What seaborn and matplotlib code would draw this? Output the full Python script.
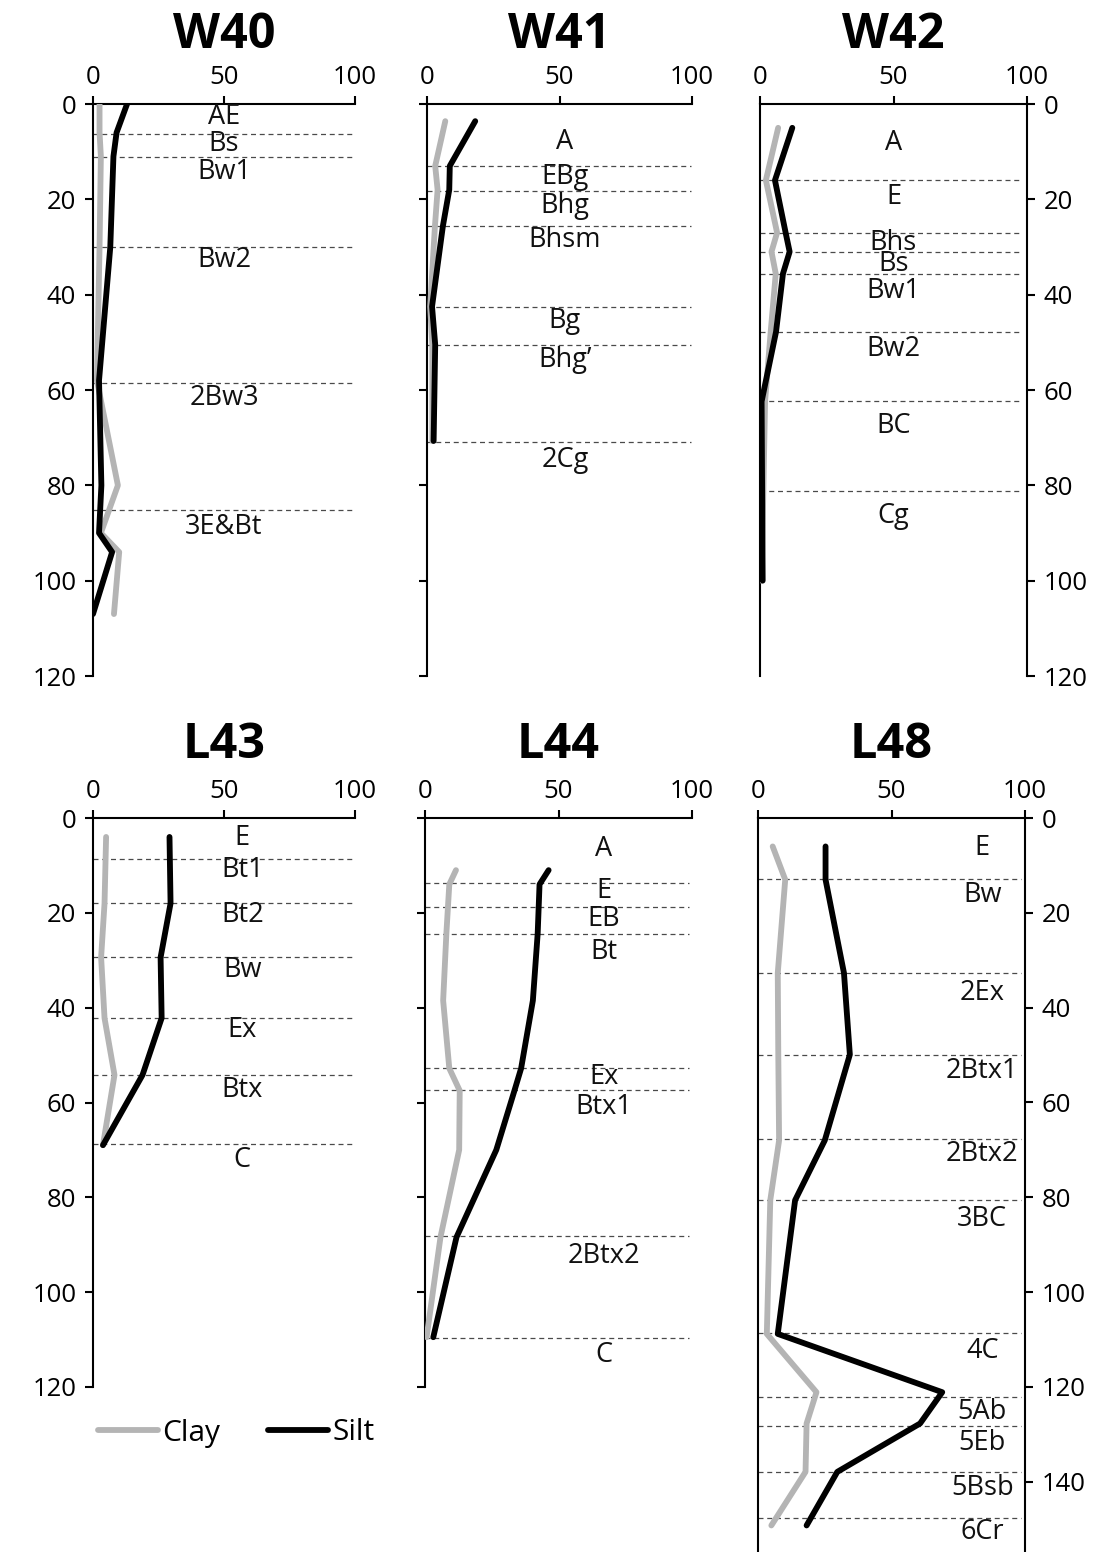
import numpy as np
import pandas as pd
import matplotlib
matplotlib.use("Agg")
import matplotlib.pyplot as plt
import seaborn as sns

# ---------------- data ----------------
# W40
w40_depth = [0, 6, 11, 30, 58, 80, 90, 94, 107]
w40_clay = [2.5, 2.5, 3.0, 2.5, 1.5, 9.5, 3.0, 10.0, 8.0]
w40_silt = [13.0, 9.0, 7.8, 6.6, 2.3, 3.2, 2.3, 7.3, 0.0]
w40_bounds = [6.3, 11.2, 30, 58.5, 85.1]
w40_hz = ["AE", "Bs", "Bw1", "Bw2", "2Bw3", "3E&Bt"]
w40_hz_depth = [2.8, 8.4, 14.2, 32.8, 61.6, 88.8]

# W41
w41_depth = [3.6, 13, 18, 25.6, 42.5, 50.5, 70.7]
w41_clay = [6.9, 3.1, 4.0, 3.0, 1.2, 2.0, 2.0]
w41_silt = [18.2, 8.6, 8.4, 6.0, 1.9, 3.1, 2.5]
w41_bounds = [13, 18.2, 25.6, 42.5, 50.5, 71]
w41_hz = ["A", "EBg", "Bhg", "Bhsm", "Bg", "Bhg\u2019", "2Cg"]
w41_hz_depth = [8, 15.4, 21.5, 28.6, 45.5, 53.8, 74.6]

# W42
w42_depth = [5, 16, 27, 31, 35.6, 47.8, 62.4, 100]
w42_clay = [6.8, 2.2, 6.4, 4.3, 5.9, 4.0, 1.9, 0.6]
w42_silt = [12.1, 5.6, 9.6, 11.1, 8.6, 6.0, 0.6, 1.0]
w42_bounds = [15.9, 27, 31.1, 35.6, 47.8, 62.4, 81.2]
w42_hz = ["A", "E", "Bhs", "Bs", "Bw1", "Bw2", "BC", "Cg"]
w42_hz_depth = [8.2, 19.5, 29.2, 33.5, 39.2, 51.4, 67.5, 86.5]

# L43
l43_depth = [4, 18, 29.4, 42.2, 54.2, 69]
l43_clay = [5.0, 4.4, 3.1, 4.4, 8.2, 3.8]
l43_silt = [29.2, 29.6, 25.8, 26.2, 18.9, 3.8]
l43_bounds = [8.6, 17.9, 29.4, 42.2, 54.2, 68.8]
l43_hz = ["E", "Bt1", "Bt2", "Bw", "Ex", "Btx", "C"]
l43_hz_depth = [4.2, 10.9, 20.5, 32.0, 44.8, 57.4, 72.2]

# L44
l44_depth = [11, 14, 24.4, 38.5, 52.8, 57.5, 70, 88.4, 109.5]
l44_clay = [11.6, 9.1, 8.0, 6.8, 9.1, 13.0, 12.8, 5.8, 0.6]
l44_silt = [46.3, 42.9, 42.2, 40.4, 36.0, 33.5, 26.7, 11.8, 3.1]
l44_bounds = [13.7, 18.7, 24.4, 52.8, 57.3, 88.2, 109.6]
l44_hz = ["A", "E", "EB", "Bt", "Ex", "Btx1", "2Btx2", "C"]
l44_hz_depth = [6.5, 15.4, 21.3, 28.2, 54.7, 61.0, 92.4, 113.3]

# L48
l48_depth = [6, 13, 32.7, 49.9, 68, 80.6, 108.8, 121.1, 127.7, 137.9, 149.2]
l48_clay = [5.5, 10.2, 7.4, 7.6, 7.9, 4.6, 3.3, 21.9, 18.2, 17.8, 5.0]
l48_silt = [25.3, 25.3, 32.2, 34.4, 25.0, 13.9, 7.4, 69.0, 60.7, 29.7, 18.2]
l48_bounds = [12.8, 32.7, 49.9, 67.6, 80.6, 108.6, 122.1, 128.2, 138, 147.6]
l48_hz = ["E", "Bw", "2Ex", "2Btx1", "2Btx2", "3BC", "4C", "5Ab", "5Eb", "5Bsb", "6Cr"]
l48_hz_depth = [6.4, 16.3, 36.9, 53.3, 70.8, 84.6, 112.4, 125.3, 131.8, 141.2, 150.6]

profiles = {
    "W40": (w40_depth, w40_clay, w40_silt, w40_bounds, w40_hz, w40_hz_depth),
    "W41": (w41_depth, w41_clay, w41_silt, w41_bounds, w41_hz, w41_hz_depth),
    "W42": (w42_depth, w42_clay, w42_silt, w42_bounds, w42_hz, w42_hz_depth),
    "L43": (l43_depth, l43_clay, l43_silt, l43_bounds, l43_hz, l43_hz_depth),
    "L44": (l44_depth, l44_clay, l44_silt, l44_bounds, l44_hz, l44_hz_depth),
    "L48": (l48_depth, l48_clay, l48_silt, l48_bounds, l48_hz, l48_hz_depth),
}

# ---------------- layout / style ----------------
W, H = 1105, 1552
# name: (left_px, top_px, width_px, bottom_px, ymax, side, label_x, line_xmax, yticks)
layout = {
    "W40": (93, 104, 262, 676, 120, "left", 50, 100, range(0, 121, 20)),
    "W41": (427, 104, 265, 676, 120, "mid", 52, 99.5, range(0, 121, 20)),
    "W42": (760, 104, 267, 676, 120, "right", 50, 97.5, range(0, 121, 20)),
    "L43": (93, 818, 262, 1387, 120, "left", 57, 100, range(0, 121, 20)),
    "L44": (425, 818, 267, 1387, 120, "mid", 67, 99, range(0, 121, 20)),
    "L48": (758, 818, 267, 1552, 154.8, "right", 84, 98.5, range(0, 141, 20)),
}
title_y = {"W40": 35, "W41": 35, "W42": 35, "L43": 745, "L44": 745, "L48": 745}

CLAY_C = "#b4b4b4"
SILT_C = "#000000"

sns.set_style("white")
plt.rcParams["font.family"] = ["Open Sans", "DejaVu Sans"]
plt.rcParams["axes.linewidth"] = 1.5
plt.rcParams["text.color"] = "black"

fig = plt.figure(figsize=(W / 100, H / 100), dpi=100)
fig.patch.set_facecolor("white")

handles = None
for name, (depth, clay, silt, bounds, hz, hz_d) in profiles.items():
    lp, tp, wp, bp, ymax, side, lab_x, lxmax, yticks = layout[name]
    ax = fig.add_axes([lp / W, 1 - bp / H, wp / W, (bp - tp) / H])
    ax.set_facecolor("none")

    df = pd.DataFrame({"depth": depth, "Clay": clay, "Silt": silt})
    # horizon boundaries
    for b in bounds:
        ax.plot([0, lxmax], [b, b], color="#4a4a4a", lw=0.9, ls=(0, (4, 3)), zorder=1)
    sns.lineplot(data=df, x="Clay", y="depth", ax=ax, color=CLAY_C, lw=4.2,
                 orient="y", estimator=None, label="Clay", legend=False, zorder=3)
    sns.lineplot(data=df, x="Silt", y="depth", ax=ax, color=SILT_C, lw=4.2,
                 orient="y", estimator=None, label="Silt", legend=False, zorder=4)
    if handles is None:
        handles = [l for l in ax.get_lines() if l.get_label() in ("Clay", "Silt")]

    for t, d in zip(hz, hz_d):
        ax.text(lab_x, d, t, ha="center", va="center", fontsize=19.5, color="#111111", zorder=5)

    ax.set_xlim(0, 100)
    ax.set_ylim(ymax, 0)
    ax.set_xlabel("")
    ax.set_ylabel("")
    ax.xaxis.tick_top()
    ax.set_xticks([0, 50, 100])
    ax.spines["bottom"].set_visible(False)
    for s in ax.spines.values():
        s.set_linewidth(1.5)
        s.set_color("black")

    if side == "right":
        ax.yaxis.tick_right()
        ax.spines["right"].set_visible(True)
        ax.set_yticks(list(yticks))
    else:
        ax.yaxis.tick_left()
        ax.spines["right"].set_visible(False)
        ax.set_yticks(list(yticks))
        if side == "mid":
            ax.set_yticklabels([])
    ax.tick_params(axis="both", direction="out", length=6, width=1.5,
                   labelsize=18.5, pad=6, colors="black")
    ax.tick_params(axis="x", pad=4)

    # title
    fig.text((lp + wp / 2) / W, 1 - title_y[name] / H, name, ha="center", va="center",
             fontsize=35, fontweight="bold", color="black")

fig.legend(handles=handles, labels=["Clay", "Silt"], loc="center left",
           bbox_to_anchor=(98 / W, 1 - 1433 / H), ncol=2, frameon=False,
           fontsize=21.5, handlelength=2.0, handletextpad=0.15, columnspacing=1.6,
           borderpad=0, borderaxespad=0)

fig.savefig("out.png", dpi=100, facecolor="white")
